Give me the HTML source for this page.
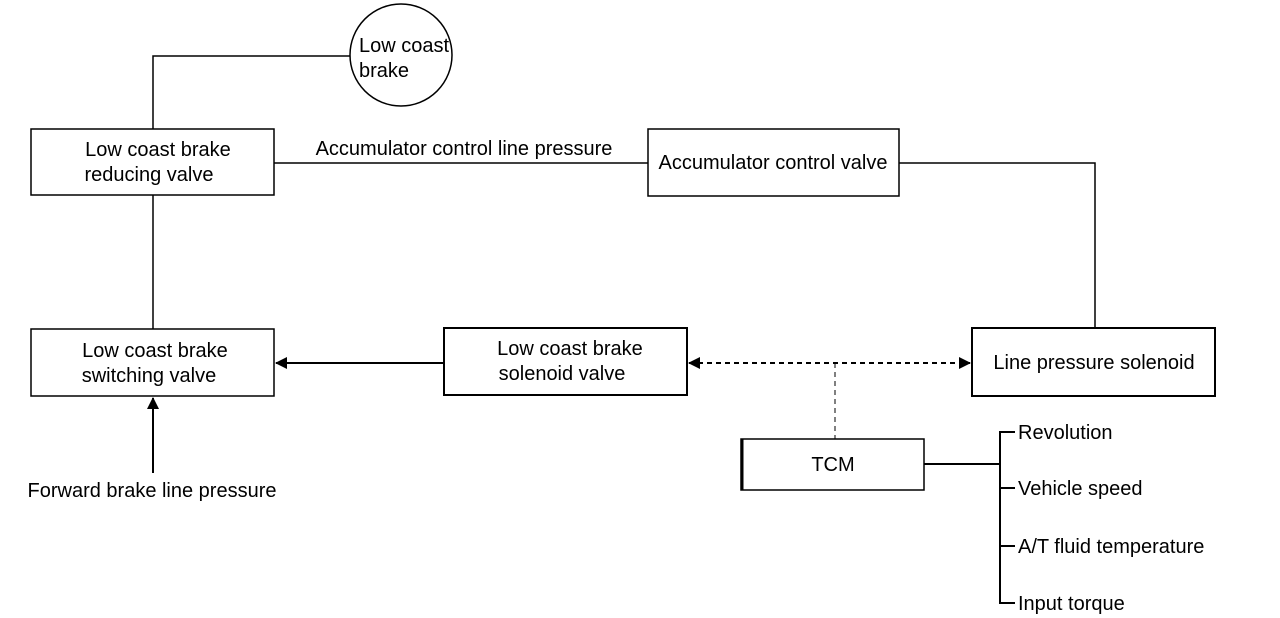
<!DOCTYPE html>
<html><head><meta charset="utf-8"><style>
html,body{margin:0;padding:0;background:#fff;}
svg{display:block;}
text{font-family:"Liberation Sans",Arial,sans-serif;font-size:20px;fill:#000;}
</style></head><body>
<svg width="1280" height="618" viewBox="0 0 1280 618" xmlns="http://www.w3.org/2000/svg">
<defs>
<marker id="ah" markerWidth="12" markerHeight="12" refX="11" refY="6" orient="auto" markerUnits="userSpaceOnUse">
<path d="M0,0 L12,6 L0,12 z" fill="#000"/></marker>
<marker id="ahs" markerWidth="12" markerHeight="12" refX="11" refY="6" orient="auto-start-reverse" markerUnits="userSpaceOnUse">
<path d="M0,0 L12,6 L0,12 z" fill="#000"/></marker>
</defs>
<g fill="none" stroke="#000" stroke-width="1.5">
<circle cx="401" cy="55" r="51"/>
<polyline points="350,56 153,56 153,129"/>
<rect x="31" y="129" width="243" height="66"/>
<line x1="274" y1="163" x2="648" y2="163"/>
<rect x="648" y="129" width="251" height="67"/>
<polyline points="899,163 1095,163 1095,328"/>
<rect x="972" y="328" width="243" height="68" stroke-width="2"/>
<line x1="153" y1="195" x2="153" y2="329"/>
<rect x="31" y="329" width="243" height="67"/>
<rect x="444" y="328" width="243" height="67" stroke-width="2"/>
<line x1="444" y1="363" x2="276" y2="363" stroke-width="2" marker-end="url(#ah)"/>
<line x1="689" y1="363" x2="970" y2="363" stroke-width="2" stroke-dasharray="5,4" marker-start="url(#ahs)" marker-end="url(#ah)"/>
<line x1="835" y1="363" x2="835" y2="439" stroke-dasharray="5,4" stroke-width="1"/>
<rect x="741" y="439" width="183" height="51"/>
<line x1="742" y1="439" x2="742" y2="490" stroke-width="3"/>
<line x1="153" y1="473" x2="153" y2="398" stroke-width="2" marker-end="url(#ah)"/>
<line x1="924" y1="464" x2="1000" y2="464" stroke-width="2"/>
<polyline points="1015,432 1000,432 1000,603 1015,603" stroke-width="2"/>
<line x1="1000" y1="488" x2="1015" y2="488" stroke-width="2"/>
<line x1="1000" y1="546" x2="1015" y2="546" stroke-width="2"/>
</g>
<text x="359" y="52">Low coast</text>
<text x="359" y="77">brake</text>
<text x="158" y="156" text-anchor="middle">Low coast brake</text>
<text x="149" y="181" text-anchor="middle">reducing valve</text>
<text x="464" y="155" text-anchor="middle">Accumulator control line pressure</text>
<text x="773" y="169" text-anchor="middle">Accumulator control valve</text>
<text x="1094" y="369" text-anchor="middle">Line pressure solenoid</text>
<text x="155" y="357" text-anchor="middle">Low coast brake</text>
<text x="149" y="382" text-anchor="middle">switching valve</text>
<text x="570" y="355" text-anchor="middle">Low coast brake</text>
<text x="562" y="380" text-anchor="middle">solenoid valve</text>
<text x="833" y="471" text-anchor="middle">TCM</text>
<text x="152" y="497" text-anchor="middle">Forward brake line pressure</text>
<text x="1018" y="439">Revolution</text>
<text x="1018" y="495">Vehicle speed</text>
<text x="1018" y="553">A/T fluid temperature</text>
<text x="1018" y="610">Input torque</text>
</svg>
</body></html>
